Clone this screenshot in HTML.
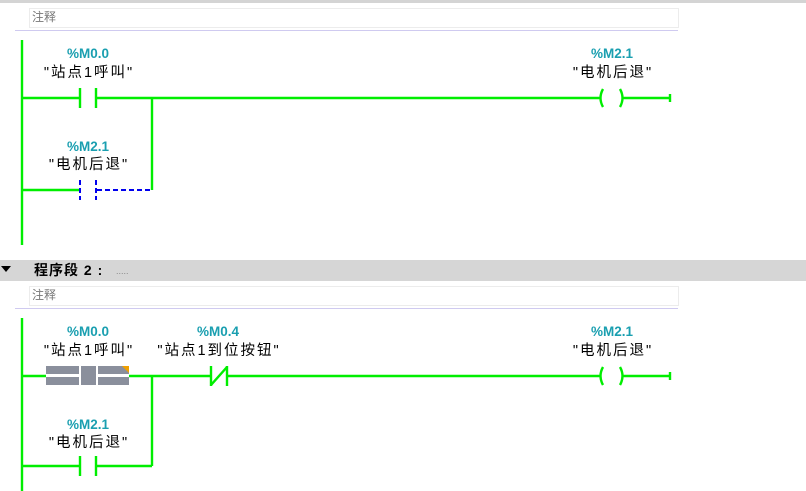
<!DOCTYPE html>
<html><head><meta charset="utf-8"><style>
html,body{margin:0;padding:0;background:#fff;width:806px;height:491px;overflow:hidden}
svg{display:block}
.addr{font-family:"Liberation Sans",sans-serif;font-size:13.5px;font-weight:bold;fill:#1a9fb0;text-anchor:middle}
.nm{font-family:"Liberation Sans","Noto Sans CJK SC",sans-serif;font-size:14.5px;fill:#000;text-anchor:middle;letter-spacing:2px}
.cm{font-family:"Liberation Sans","Noto Sans CJK SC",sans-serif;font-size:12px;fill:#777}
</style></head><body>
<svg width="806" height="491" viewBox="0 0 806 491" xmlns="http://www.w3.org/2000/svg">
<rect x="0" y="0" width="806" height="3" fill="#d4d4d4"/>
<rect x="29.5" y="8.5" width="649" height="19" fill="#fff" stroke="#ececec"/>
<text class="cm" x="32" y="21">注释</text>
<line x1="15" y1="30.5" x2="678" y2="30.5" stroke="#cfcaf0" stroke-width="1"/>
<g stroke="#00ee00" stroke-width="2.4" fill="none">
<line x1="22" y1="40" x2="22" y2="245"/>
<line x1="22" y1="98" x2="80" y2="98"/>
<line x1="80" y1="88" x2="80" y2="108"/>
<line x1="96" y1="88" x2="96" y2="108"/>
<line x1="96" y1="98" x2="600" y2="98"/>
<line x1="152" y1="98" x2="152" y2="190"/>
<line x1="22" y1="190" x2="80" y2="190"/>
<path d="M603,89 Q598,98 603,107"/>
<path d="M620,89 Q625,98 620,107"/>
<line x1="622" y1="98" x2="670" y2="98"/>
<line x1="670" y1="94" x2="670" y2="102"/>
</g>
<g stroke="#0000ee" stroke-width="2" fill="none" stroke-dasharray="5,3">
<line x1="80" y1="180" x2="80" y2="200"/>
<line x1="96" y1="180" x2="96" y2="200"/>
<line x1="97" y1="190" x2="152" y2="190"/>
</g>
<text class="addr" x="88" y="58">%M0.0</text>
<text class="nm" x="89" y="77">"站点1呼叫"</text>
<text class="addr" x="88" y="151">%M2.1</text>
<text class="nm" x="89" y="169">"电机后退"</text>
<text class="addr" x="612" y="58">%M2.1</text>
<text class="nm" x="613" y="77">"电机后退"</text>

<rect x="0" y="260" width="806" height="21" fill="#d6d6d6"/>
<polygon points="1,266 11,266 6,272" fill="#000"/>
<text x="34" y="275" font-family="Liberation Sans,Noto Sans CJK SC,sans-serif" font-size="14" font-weight="bold" fill="#000" letter-spacing="1">程序段 2 :</text>
<text x="116" y="274" font-family="Liberation Sans,sans-serif" font-size="9" fill="#888">.....</text>
<rect x="29.5" y="286.5" width="649" height="19" fill="#fff" stroke="#ececec"/>
<text class="cm" x="32" y="299">注释</text>
<line x1="15" y1="308.5" x2="678" y2="308.5" stroke="#cfcaf0" stroke-width="1"/>
<g stroke="#00ee00" stroke-width="2.4" fill="none">
<line x1="22" y1="318" x2="22" y2="491"/>
<line x1="22" y1="376" x2="46" y2="376"/>
<line x1="129" y1="376" x2="210" y2="376"/>
<line x1="152" y1="376" x2="152" y2="466"/>
<line x1="211" y1="366" x2="211" y2="386"/>
<line x1="227" y1="366" x2="227" y2="386"/>
<line x1="211" y1="385" x2="227" y2="367"/>
<line x1="227" y1="376" x2="600" y2="376"/>
<path d="M603,367 Q598,376 603,385"/>
<path d="M620,367 Q625,376 620,385"/>
<line x1="622" y1="376" x2="670" y2="376"/>
<line x1="670" y1="372" x2="670" y2="380"/>
<line x1="22" y1="466" x2="80" y2="466"/>
<line x1="80" y1="456" x2="80" y2="476"/>
<line x1="96" y1="456" x2="96" y2="476"/>
<line x1="96" y1="466" x2="152" y2="466"/>
</g>
<g fill="#8a8f9c">
<rect x="46" y="366" width="33" height="8"/>
<rect x="46" y="377" width="33" height="8"/>
<rect x="81" y="366" width="15" height="19"/>
<rect x="98" y="366" width="31" height="8"/>
<rect x="98" y="377" width="31" height="8"/>
</g>
<polygon points="122,366 129,366 129,373" fill="#f0a000"/>
<text class="addr" x="88" y="336">%M0.0</text>
<text class="nm" x="89" y="355">"站点1呼叫"</text>
<text class="addr" x="218" y="336">%M0.4</text>
<text class="nm" x="219" y="355">"站点1到位按钮"</text>
<text class="addr" x="88" y="429">%M2.1</text>
<text class="nm" x="89" y="447">"电机后退"</text>
<text class="addr" x="612" y="336">%M2.1</text>
<text class="nm" x="613" y="355">"电机后退"</text>
</svg>
</body></html>
